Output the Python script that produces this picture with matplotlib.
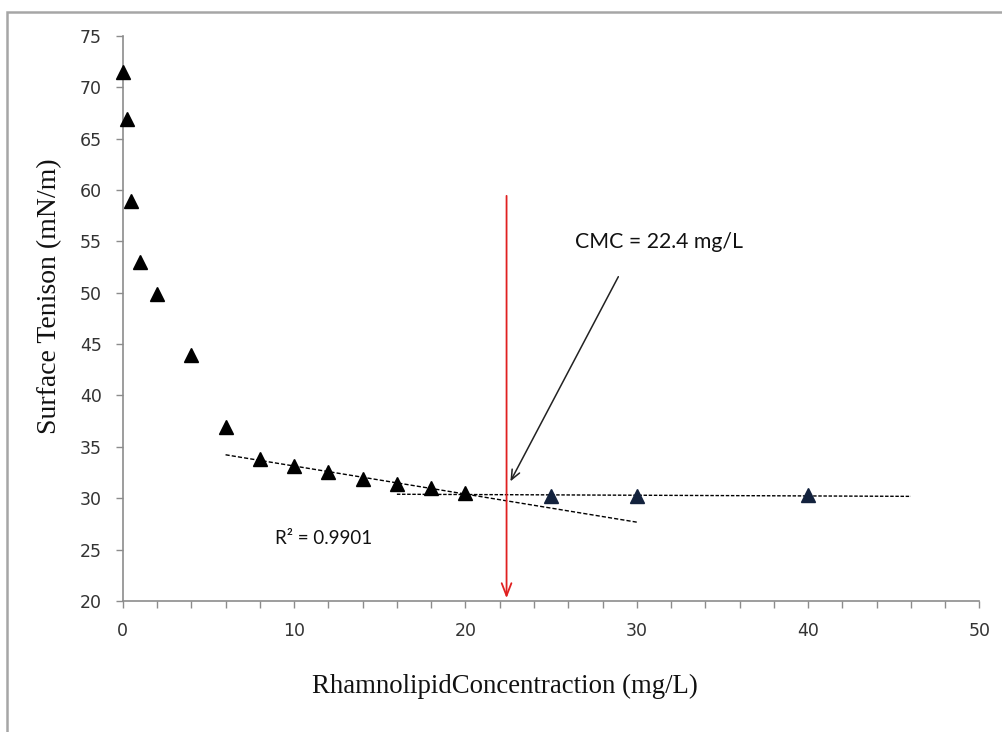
import matplotlib
matplotlib.use("Agg")
import matplotlib.pyplot as plt
import numpy as np
from matplotlib.patches import Rectangle

# data
conc = [0, 0.25, 0.5, 1, 2, 4, 6, 8, 10, 12, 14, 16, 18, 20]
tension = [71.5, 66.9, 58.9, 53.0, 49.9, 43.9, 36.9, 33.8, 33.1, 32.6, 31.9, 31.4, 31.0, 30.5]
plateau_conc = [25, 30, 40]
plateau_tension = [30.2, 30.2, 30.3]

# points used for the two trend lines
fit1_x = [8, 10, 12, 14, 16, 18, 20]
fit2_x = [20, 25, 30, 40]
cmc = 22.4
x_ticks = [0, 10, 20, 30, 40, 50]
y_ticks = [20, 25, 30, 35, 40, 45, 50, 55, 60, 65, 70, 75]

plt.rcParams["font.family"] = "DejaVu Sans"

fig = plt.figure(figsize=(10.02, 7.32), dpi=100)
ax = fig.add_axes([0.1225, 0.179, 0.855, 0.772])

# chart-area frame (gray, cut by the image edge on right/bottom)
fig.patches.append(Rectangle((7 / 1002, -0.05), 1.2, (732 - 12) / 732 + 0.05,
                             transform=fig.transFigure, fill=False,
                             edgecolor="#a6a6a6", linewidth=1.8))

ax.plot(conc, tension, linestyle="none", marker="^", markersize=10.5,
        color="black", zorder=5, clip_on=False)
ax.plot(plateau_conc, plateau_tension, linestyle="none", marker="^",
        markersize=10.5, color="#13223d", zorder=5)

# linear trend 1 (descending part)
all_x = np.array(conc + plateau_conc)
all_y = np.array(tension + plateau_tension)
m1 = np.isin(all_x, fit1_x)
p1 = np.polyfit(all_x[m1], all_y[m1], 1)
xx1 = np.array([6, 30])
ax.plot(xx1, np.polyval(p1, xx1), color="black", linestyle=(0, (3, 1.5)),
        linewidth=1.0, zorder=4)

# linear trend 2 (plateau)
m2 = np.isin(all_x, fit2_x)
p2 = np.polyfit(all_x[m2], all_y[m2], 1)
xx2 = np.array([16, 46])
ax.plot(xx2, np.polyval(p2, xx2), color="black", linestyle=(0, (2.5, 1.2)),
        linewidth=1.0, zorder=4)

# red CMC marker
ax.annotate("", xy=(cmc, 20), xytext=(cmc, 59.7),
            arrowprops=dict(arrowstyle="->,head_length=0.9,head_width=0.35",
                            color="#e02020", linewidth=1.3), zorder=6)

# black arrow pointing at CMC
ax.annotate("", xy=(22.55, 31.4), xytext=(29.0, 51.8),
            arrowprops=dict(arrowstyle="->,head_length=0.7,head_width=0.3",
                            color="#222222", linewidth=1.1), zorder=6)

ax.text(26.4, 54.9, "CMC = 22.4 mg/L", fontsize=15.3, family="Lato",
        va="center", ha="left", color="#111111")
ax.text(8.9, 26.1, "R² = 0.9901", fontsize=13.5, family="Lato",
        va="center", ha="left", color="#111111")

ax.set_xlim(0, 50)
ax.set_ylim(20, 75)
ax.set_xticks(x_ticks)
ax.set_xticks(np.arange(0, 51, 2), minor=True)
ax.set_yticks(y_ticks)

for s in ("top", "right"):
    ax.spines[s].set_visible(False)
for s in ("left", "bottom"):
    ax.spines[s].set_color("#8c8c8c")
    ax.spines[s].set_linewidth(1.2)

ax.tick_params(axis="both", which="both", direction="out", length=5,
               width=1, color="#8c8c8c", labelcolor="#333333", labelsize=12.5)
ax.tick_params(axis="y", pad=10)
ax.tick_params(axis="x", pad=10.5)

ax.set_xlabel("RhamnolipidConcentraction (mg/L)", family="Liberation Serif",
              fontsize=19.3, color="#111111", va="center")
ax.xaxis.set_label_coords(0.4455, -0.152)
ax.set_ylabel("Surface Tenison (mN/m)", family="Liberation Serif",
              fontsize=20, color="#111111", va="center")
ax.yaxis.set_label_coords(-0.085, 0.54)

fig.savefig("out.png", dpi=100)
